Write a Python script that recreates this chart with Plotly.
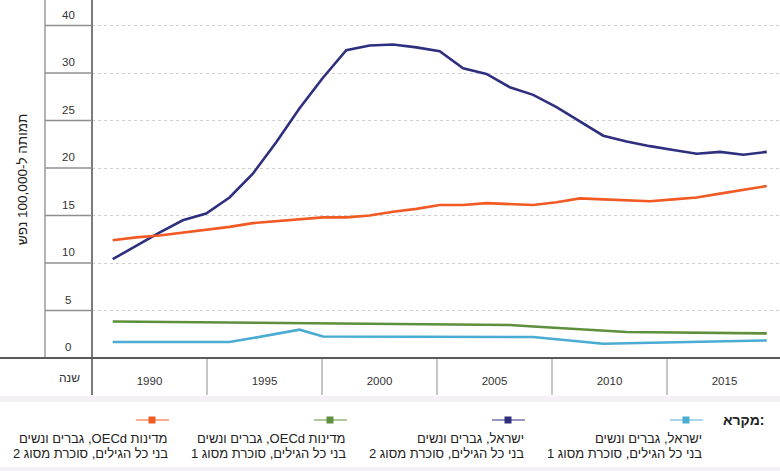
import plotly.graph_objects as go

# ---------------- data ----------------
years = list(range(1990, 2019))

israel_type1 = [1.68, 1.68, 1.68, 1.68, 1.68, 1.68, 2.10, 2.55, 2.98, 2.27,
                2.27, 2.26, 2.26, 2.25, 2.25, 2.24, 2.23, 2.22, 2.21, 1.98,
                1.74, 1.50, 1.55, 1.60, 1.65, 1.70, 1.75, 1.80, 1.85]
israel_type2 = [10.4, 11.8, 13.2, 14.5, 15.2, 16.9, 19.4, 22.7, 26.3, 29.5,
                32.4, 32.9, 33.0, 32.7, 32.3, 30.5, 29.9, 28.5, 27.7, 26.4,
                24.9, 23.4, 22.8, 22.3, 21.9, 21.5, 21.7, 21.4, 21.7]
oecd_type1 = [3.85, 3.83, 3.81, 3.78, 3.76, 3.74, 3.72, 3.70, 3.67, 3.65,
              3.63, 3.61, 3.59, 3.57, 3.54, 3.52, 3.50, 3.47, 3.31, 3.15,
              2.99, 2.83, 2.73, 2.71, 2.68, 2.66, 2.64, 2.62, 2.59]
oecd_type2 = [12.4, 12.7, 12.9, 13.2, 13.5, 13.8, 14.2, 14.4, 14.6, 14.8,
              14.8, 15.0, 15.4, 15.7, 16.1, 16.1, 16.3, 16.2, 16.1, 16.4,
              16.8, 16.7, 16.6, 16.5, 16.7, 16.9, 17.3, 17.7, 18.1]

series_values = [israel_type1, israel_type2, oecd_type1, oecd_type2]
series_line1 = ["ישראל, גברים ונשים", "ישראל, גברים ונשים",
                "מדינות OECd, גברים ונשים", "מדינות OECd, גברים ונשים"]
series_line2 = ["בני כל הגילים, סוכרת מסוג 1", "בני כל הגילים, סוכרת מסוג 2",
                "בני כל הגילים, סוכרת מסוג 1", "בני כל הגילים, סוכרת מסוג 2"]
series_colors = ["#4aabd3", "#2e2f7f", "#5e8f3c", "#f25a24"]
legend_line_colors = ["#8ccbe6", "#7575ad", "#95b77c", "#f7936a"]

y_tick_values = [0, 5, 10, 15, 20, 25, 30, 35]
y_tick_labels = ["0", "5", "10", "15", "20", "25", "30", "40"]
x_cell_labels = ["1990", "1995", "2000", "2005", "2010", "2015"]
y_title = "תמותה ל-100,000 נפש"
x_title = "שנה"
legend_title = "מקרא:"

# ---------------- layout helpers ----------------
W, H = 780, 471
L, R, T, B = 92, 780, 0, 358
FONT = "Liberation Sans, Arial, sans-serif"


def px(x):
    return (x - L) / (R - L)


def py(y):
    return (B - y) / (B - T)


def rtl(s):
    return "\u202b" + s + "\u202c"


fig = go.Figure()
for vals, col in zip(series_values, series_colors):
    fig.add_trace(go.Scatter(x=years, y=vals, mode="lines",
                             line=dict(color=col, width=2.6),
                             showlegend=False, hoverinfo="skip"))

shapes = []
annotations = []

# left label column border and y-axis line
shapes.append(dict(type="line", xref="paper", yref="paper",
                   x0=px(45), x1=px(45), y0=py(0), y1=py(358),
                   line=dict(color="#9a9a9a", width=1.5)))
shapes.append(dict(type="line", xref="paper", yref="paper",
                   x0=0, x1=0, y0=py(0), y1=py(395),
                   line=dict(color="#5a5a5a", width=1.6)))
# tick segments in label column
for v in y_tick_values[1:]:
    shapes.append(dict(type="line", xref="paper", yref="y",
                       x0=px(45), x1=0, y0=v, y1=v,
                       line=dict(color="#8f8f8f", width=1.3)))
# bottom axis line across full width
shapes.append(dict(type="line", xref="paper", yref="paper",
                   x0=px(0), x1=px(780), y0=0, y1=0,
                   line=dict(color="#5a5a5a", width=2)))
# year cell separators
for k in range(1, len(x_cell_labels)):
    shapes.append(dict(type="line", xref="x2", yref="paper",
                       x0=k, x1=k, y0=py(359), y1=py(395),
                       line=dict(color="#a8a8a8", width=1.3)))
# light bands framing legend
shapes.append(dict(type="rect", xref="paper", yref="paper",
                   x0=px(0), x1=px(780), y0=py(396), y1=py(402),
                   fillcolor="#f4f1f6", line=dict(width=0), layer="below"))
shapes.append(dict(type="rect", xref="paper", yref="paper",
                   x0=px(0), x1=px(780), y0=py(467), y1=py(471),
                   fillcolor="#f4f1f6", line=dict(width=0), layer="below"))

# y tick labels in the label column (above each line)
for v, t in zip(y_tick_values, y_tick_labels):
    annotations.append(dict(text=t, xref="paper", yref="y", x=px(68), y=v,
                            yshift=11, showarrow=False, xanchor="center",
                            yanchor="middle",
                            font=dict(family=FONT, size=11.5, color="#333333")))

# y title
annotations.append(dict(text=rtl(y_title), xref="paper", yref="paper",
                        x=px(22), y=py(180), textangle=-90, showarrow=False,
                        xanchor="center", yanchor="middle",
                        font=dict(family=FONT, size=13.5, color="#222222")))
# x title
annotations.append(dict(text=rtl(x_title), xref="paper", yref="paper",
                        x=px(82), y=py(378), showarrow=False,
                        xanchor="right", yanchor="middle",
                        font=dict(family=FONT, size=12, color="#333333")))

# legend
annotations.append(dict(text="<b>" + legend_title + "</b>", xref="paper",
                        yref="paper", x=px(766), y=py(420), showarrow=False,
                        xanchor="right", yanchor="middle",
                        font=dict(family=FONT, size=14, color="#222222")))
legend_right = [703, 525, 347, 169]
for i in range(len(series_values)):
    r = legend_right[i]
    c = r - 17
    shapes.append(dict(type="line", xref="paper", yref="paper",
                       x0=px(r - 33), x1=px(r), y0=py(420), y1=py(420),
                       line=dict(color=legend_line_colors[i], width=1.6)))
    shapes.append(dict(type="rect", xref="paper", yref="paper",
                       x0=px(c - 3.5), x1=px(c + 3.5),
                       y0=py(423.5), y1=py(416.5),
                       fillcolor=series_colors[i], line=dict(width=0)))
    for txt, yy in ((series_line1[i], 438), (series_line2[i], 453)):
        annotations.append(dict(text=rtl(txt), xref="paper", yref="paper",
                                x=px(r + 1), y=py(yy), showarrow=False,
                                xanchor="right", yanchor="middle",
                                font=dict(family=FONT, size=13,
                                          color="#222222")))

fig.update_layout(
    width=W, height=H,
    margin=dict(l=L, r=W - R, t=T, b=H - B, pad=0),
    paper_bgcolor="white", plot_bgcolor="white",
    showlegend=False,
    xaxis=dict(range=[1989.114, 2018.566], showticklabels=False,
               showgrid=False, zeroline=False, showline=False, ticks=""),
    xaxis2=dict(overlaying="x", anchor="free", position=0, side="bottom",
                range=[0, (R - L) / 115.0],
                tickvals=[k + 0.5 for k in range(len(x_cell_labels))],
                ticktext=x_cell_labels, showgrid=False, zeroline=False,
                showline=False, ticks="outside", ticklen=12,
                tickcolor="rgba(0,0,0,0)",
                tickfont=dict(family=FONT, size=11.5, color="#333333")),
    yaxis=dict(range=[0, B / 9.5], tickvals=y_tick_values,
               showticklabels=False, showgrid=True, gridcolor="#cfcfcf",
               griddash="dot", gridwidth=1, zeroline=False, showline=False,
               ticks=""),
    shapes=shapes,
    annotations=annotations,
)

fig.write_html("out.html",
               config={"displayModeBar": False},
               post_script="document.body.style.margin='0px';"
                           "document.body.style.overflow='hidden';")
